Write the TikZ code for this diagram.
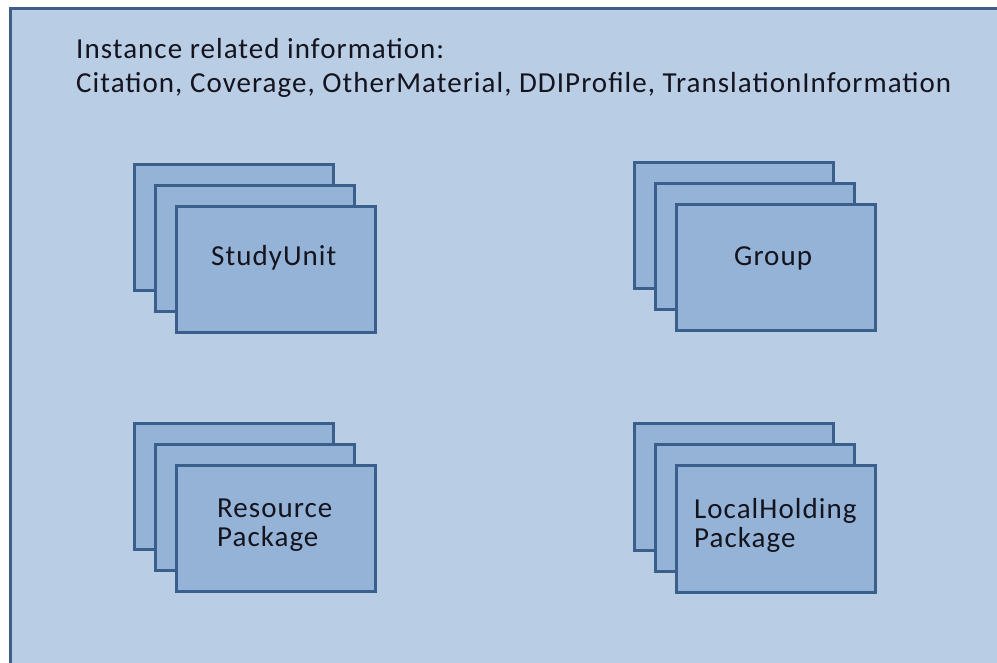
\documentclass[tikz,border=0pt]{standalone}
\usepackage{fontspec}
\setmainfont{Carlito}[LetterSpace=3.6]
\definecolor{bgfill}{HTML}{B9CDE5}
\definecolor{bgline}{HTML}{3F5E87}
\definecolor{boxfill}{HTML}{95B3D7}
\definecolor{boxline}{HTML}{3A5F8C}
\definecolor{txt}{HTML}{14141E}
\begin{document}
\begin{tikzpicture}[x=1pt,y=-1pt,
  card/.style={draw=boxline,fill=boxfill,line width=3pt},
  lbl/.style={text=txt,font=\fontsize{29}{29}\selectfont,inner sep=0pt,align=left,anchor=base west},
  head/.style={text=txt,font=\fontsize{29}{34}\selectfont,inner sep=0pt,anchor=base west}]
\useasboundingbox (0,0) rectangle (997,662);
\fill[white] (0,0) rectangle (997,662);
\draw[draw=bgline,fill=bgfill,line width=3pt] (10,8) rectangle (1012,680);
\node[head] (hdr1) at (76,58) {Instance related information:};
\node[head] (hdr2) at (76,92) {Citation, Coverage, OtherMaterial, DDIProfile, TranslationInformation};
% StudyUnit
\foreach \dx/\dy in {0/0,21/21,42/42}{
  \draw[card] (134+\dx,164+\dy) rectangle (333+\dx,290+\dy);
}
\node[lbl] (su) at (211,265) {StudyUnit};
% Group
\foreach \dx/\dy in {0/0,21/21,42/42}{
  \draw[card] (634+\dx,162+\dy) rectangle (833+\dx,288+\dy);
}
\node[lbl] (gr) at (734,265) {Group};
% Resource Package
\foreach \dx/\dy in {0/0,21/21,42/42}{
  \draw[card] (134+\dx,423+\dy) rectangle (333+\dx,549+\dy);
}
\node[lbl] (rp) at (217,546) {Resource\\Package};
% LocalHolding Package
\foreach \dx/\dy in {0/0,21/21,42/42}{
  \draw[card] (634+\dx,423+\dy) rectangle (833+\dx,550+\dy);
}
\node[lbl] (lh) at (694,547) {LocalHolding\\Package};
\end{tikzpicture}
\end{document}
